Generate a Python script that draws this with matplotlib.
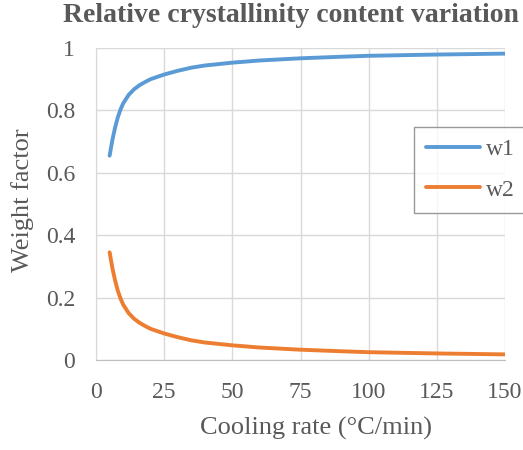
import matplotlib
matplotlib.use("Agg")
import matplotlib.pyplot as plt

cooling_rate = [5, 6, 7, 8, 9, 10, 12, 14, 16, 18, 20, 25, 30, 35, 40, 50, 60, 75, 90, 100, 125, 150]
w1 = [0.655, 0.705, 0.745, 0.778, 0.803, 0.823, 0.850, 0.868, 0.881, 0.891, 0.900, 0.915,
      0.927, 0.937, 0.944, 0.953, 0.960, 0.967, 0.972, 0.975, 0.979, 0.982]
w2 = [0.345, 0.295, 0.255, 0.222, 0.197, 0.177, 0.150, 0.132, 0.119, 0.109, 0.100, 0.085,
      0.073, 0.063, 0.056, 0.047, 0.040, 0.033, 0.028, 0.025, 0.021, 0.018]

xticks = [0, 25, 50, 75, 100, 125, 150]
yticks = [0, 0.2, 0.4, 0.6, 0.8, 1]
ytick_labels = ["0", "0.2", "0.4", "0.6", "0.8", "1"]

plt.rcParams['font.family'] = ['Liberation Serif', 'DejaVu Serif']
txt = '#595959'

fig = plt.figure(figsize=(5.23, 4.5), dpi=100)
ax = fig.add_axes([96 / 523, 90 / 450, 409 / 523, 312 / 450])

ax.plot(cooling_rate, w1, color='#5B9BD5', lw=2.8, label='w1', solid_capstyle='round',
        solid_joinstyle='round')
ax.plot(cooling_rate, w2, color='#ED7D31', lw=2.8, label='w2', solid_capstyle='round',
        solid_joinstyle='round')

ax.set_xlim(0, 150)
ax.set_ylim(0, 1)
ax.set_xticks(xticks)
ax.set_yticks(yticks)
ax.set_yticklabels(ytick_labels)
ax.grid(True, color='#d9d9d9', lw=1)
ax.set_axisbelow(True)
for s in ['top', 'right']:
    ax.spines[s].set_visible(False)
ax.spines['left'].set_color('#d9d9d9')
ax.spines['bottom'].set_color('#bfbfbf')
ax.tick_params(length=0, labelsize=17, labelcolor=txt)
ax.tick_params(axis='x', pad=16)
ax.tick_params(axis='y', pad=15)

ax.set_xlabel('Cooling rate (°C/min)', fontsize=19, color=txt, va='center')
ax.xaxis.set_label_coords((316 - 96) / 409, (360 - 428) / 312)
ax.set_ylabel('Weight factor', fontsize=19, color=txt, va='center')
ax.yaxis.set_label_coords((23 - 96) / 409, (360 - 200) / 312)

fig.text(291 / 523, 1 - 16 / 450, 'Relative crystallinity content variation', ha='center', va='center',
         fontsize=20, fontweight='bold', color=txt)

leg = ax.legend(loc='upper left', bbox_to_anchor=(414 / 523, 1 - 127 / 450), bbox_transform=fig.transFigure,
                fontsize=17, frameon=True, fancybox=False, edgecolor='#808080',
                handlelength=2.3, labelspacing=0.8, borderpad=0.5, handletextpad=0.25,
                borderaxespad=0)
leg.get_frame().set_linewidth(1)
for t in leg.get_texts():
    t.set_color(txt)

fig.savefig('out.png', dpi=100)
